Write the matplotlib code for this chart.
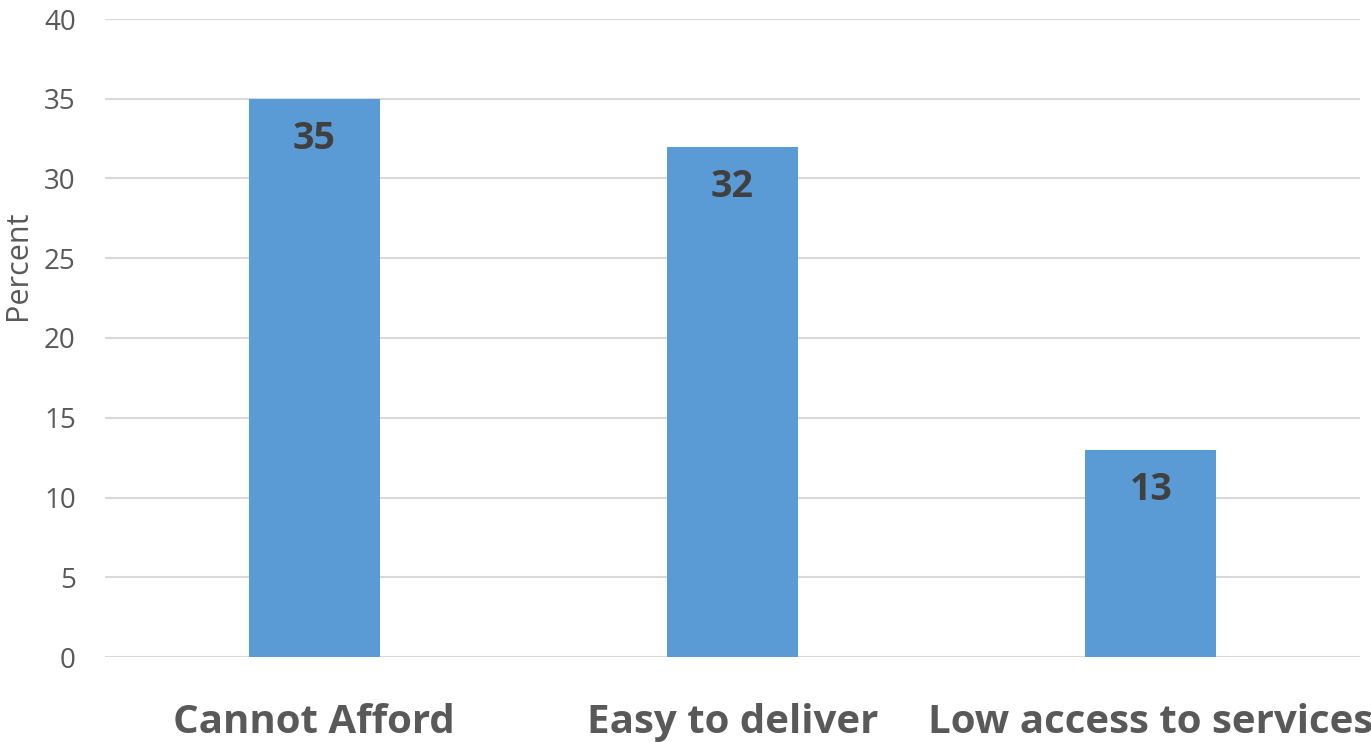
import matplotlib
matplotlib.use('Agg')
import matplotlib.pyplot as plt

categories = ['Cannot Afford', 'Easy to deliver', 'Low access to services']
values = [35, 32, 13]
yticks = [0, 5, 10, 15, 20, 25, 30, 35, 40]

plt.rcParams['font.family'] = ['Open Sans', 'DejaVu Sans']

fig = plt.figure(figsize=(13.71, 7.42), dpi=100)
ax = fig.add_axes([105 / 1371, 85 / 742, 1255 / 1371, 638 / 742])

x = range(len(categories))
bars = ax.bar(x, values, width=0.313, color='#5B9BD5', zorder=3)

for b, v in zip(bars, values):
    ax.annotate(str(v), (b.get_x() + b.get_width() / 2, v), xytext=(0, -29),
                textcoords='offset points', ha='center', va='center',
                fontsize=27, fontweight='bold', color='#404040', zorder=4)

ax.set_xlim(-0.5, 2.5)
ax.set_ylim(0, 40)
ax.set_yticks(yticks)
ax.set_xticks(list(x))
ax.set_xticklabels(categories, fontsize=29, fontweight='bold', color='#595959')
ax.tick_params(axis='y', length=0, pad=21, labelsize=20, labelcolor='#595959')
ax.tick_params(axis='x', length=0, pad=33)
ax.yaxis.grid(True, color='#D9D9D9', linewidth=1.5, zorder=0)
for s in ax.spines.values():
    s.set_visible(False)
ax.set_ylabel('Percent', fontsize=22, color='#595959')
ax.yaxis.set_label_coords(-0.057, 0.614)

fig.savefig('out.png', dpi=100)
